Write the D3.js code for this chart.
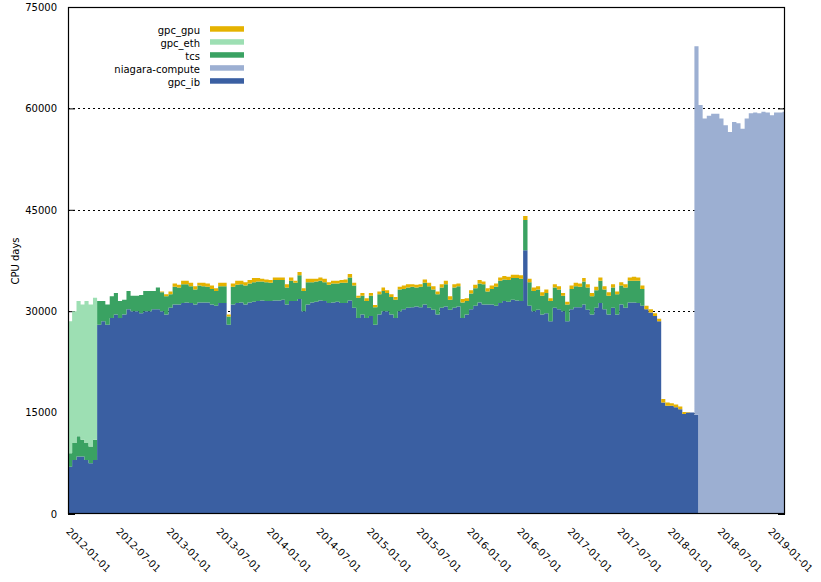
<!DOCTYPE html>
<html>
<head>
<meta charset="utf-8">
<script src="https://cdn.jsdelivr.net/npm/d3@7"></script>
<style>
body { margin: 0; background: #fff; }
text { font-family: "DejaVu Sans", sans-serif; font-size: 10px; fill: #000; }
</style>
</head>
<body>
<div id="chart"></div>
<script>
// half-month periods, 2012-01-01 .. 2019-02-16
var firstMonth = Date.UTC(2012, 0, 1),
	lastMonth = Date.UTC(2019, 2, 1);

// CPU days per half month
// gpc_ib, from 2012-01 (24 values per year)
var gpcIb = [
	7000, 8000, 8500, 8500, 8000, 7500, 8000, 28000, 28500, 28000, 29000, 29500, 29000, 29500, 30300, 30000, 30000, 29700, 30000, 30000, 30300, 30300, 30000, 29500,
	30500, 31000, 31000, 31200, 31300, 31200, 31000, 31300, 31300, 31300, 31000, 30800, 31200, 31200, 28000, 31000, 31200, 31300, 31000, 31300, 31400, 31500, 31600, 31500,
	31500, 31600, 31600, 31700, 31000, 31500, 31500, 31800, 30000, 31000, 31300, 31400, 31600, 31500, 31200, 31300, 31400, 31200, 31200, 31600, 30500, 29000, 29500, 29000,
	29300, 28000, 29500, 30000, 30000, 29500, 29000, 30000, 30300, 30500, 30600, 30700, 30600, 31000, 30500, 30200, 29500, 30500, 30700, 30200, 30500, 30700, 29000, 29500,
	30300, 30800, 31300, 31000, 31000, 31000, 30800, 31200, 31500, 31400, 31700, 31600, 31500, 39000, 30800, 30000, 30200, 29500, 29700, 28500, 30500, 30300, 30000, 28500,
	30300, 30600, 30600, 31000, 30200, 29500, 30500, 31200, 30300, 29500, 30500, 29500, 31000, 30500, 31300, 31300, 31200, 30800, 30300, 29800, 29300, 28500, 16500, 16000,
	16000, 15800, 15500, 14800, 15000, 15000, 14700
];
// tcs, from 2012-01
var tcs = [
	2000, 2500, 3000, 2500, 2500, 2500, 3000, 3500, 3000, 3000, 3200, 3200, 2500, 2200, 2700, 2300, 2300, 2700, 3000, 3000, 2700, 3200, 2800, 2700,
	2000, 2600, 2500, 2800, 2700, 2500, 2200, 2500, 2400, 2300, 2300, 2200, 2500, 2500, 1200, 2600, 2700, 2700, 2800, 2800, 2900, 2900, 2800, 2800,
	2700, 3000, 3000, 2900, 2500, 3000, 2700, 3500, 3000, 3300, 3000, 3000, 2900, 2800, 2700, 2800, 2700, 3000, 3000, 3400, 3300, 3000, 2800, 2500,
	3000, 2600, 3000, 3000, 2700, 2600, 2700, 3200, 3000, 3000, 3000, 2800, 3000, 3200, 3200, 3000, 3000, 3000, 3300, 1500, 3000, 3000, 2300, 2000,
	2300, 2600, 2800, 3000, 1900, 2300, 2800, 3300, 3200, 3200, 3200, 3300, 3300, 4500, 3500, 3000, 3000, 2800, 3000, 3000, 3000, 2900, 2300, 2500,
	3000, 3100, 3000, 3400, 3300, 2700, 2600, 3300, 2900, 2800, 3000, 3000, 2800, 3000, 3200, 3200, 3300, 2500
];
// gpc_eth, from 2012-01
var gpcEth = [19500, 19500, 20000, 20000, 21000, 21000, 21000];
// gpc_gpu, from 2012-12
var gpcGpu = [
	100, 300,
	400, 500, 400, 500, 500, 500, 500, 400, 500, 500, 500, 400, 500, 500, 300, 500, 600, 500, 500, 500, 600, 500, 400, 400,
	400, 400, 400, 400, 500, 500, 300, 500, 400, 500, 500, 400, 500, 500, 400, 400, 400, 400, 500, 500, 400, 300, 400, 400,
	400, 300, 400, 500, 400, 400, 400, 400, 500, 500, 400, 400, 400, 500, 500, 500, 400, 500, 500, 500, 500, 400, 500, 400,
	500, 500, 500, 400, 500, 500, 500, 500, 500, 500, 500, 500, 500, 600, 500, 500, 500, 500, 500, 400, 500, 500, 400, 400,
	500, 500, 500, 500, 500, 500, 500, 500, 500, 500, 500, 400, 500, 500, 500, 600, 500, 500, 500, 500, 400, 400, 500, 500,
	400, 400, 400, 300, 100
];
// niagara-compute, from 2018-04
var niagara = [54500, 60500, 58500, 58900, 59200, 59200, 58500, 57500, 56500, 58000, 57800, 57000,
	58500, 59300, 59400, 59300, 59500, 59400, 59000, 59400, 59400, 59500];

var seriesKeys = ["gpc_ib", "niagara-compute", "tcs", "gpc_eth", "gpc_gpu"]; //bottom to top
var legendKeys = ["gpc_gpu", "gpc_eth", "tcs", "niagara-compute", "gpc_ib"];
var yTicks = [0, 15000, 30000, 45000, 60000, 75000];
var gridTicks = [15000, 30000, 45000, 60000];

var colors = d3.scaleOrdinal()
	.domain(seriesKeys)
	.range(["#3a5fa2", "#9cafd2", "#3aa262", "#9ddfb3", "#e5b200"]);

var width = 821,
	height = 582;

// build the period list and the table the stack needs
var periods = [];
d3.utcMonth.range(new Date(firstMonth), new Date(lastMonth)).forEach(function(m){
	periods.push(m);
	periods.push(d3.utcDay.offset(m, 15));
});

var offsets = {"gpc_ib": 0, "tcs": 0, "gpc_eth": 0, "gpc_gpu": 22, "niagara-compute": 150};
var values = {"gpc_ib": gpcIb, "tcs": tcs, "gpc_eth": gpcEth, "gpc_gpu": gpcGpu, "niagara-compute": niagara};

var table = periods.map(function(d, i){
	var row = {date: d};
	seriesKeys.forEach(function(k){
		var j = i - offsets[k];
		row[k] = (j >= 0 && j < values[k].length) ? values[k][j] : 0;
	});
	return row;
});
// closing point so the last step has a width
var closing = Object.assign({}, table[table.length - 1]);
closing.date = new Date(lastMonth);
table.push(closing);

var stacked = d3.stack().keys(seriesKeys)(table);

var xScale = d3.scaleUtc()
	.domain([new Date(Date.UTC(2012, 0, 1)), new Date(Date.UTC(2019, 1, 25))])
	.range([68, 785]);

var yScale = d3.scaleLinear()
	.domain([0, 75000])
	.range([514, 7]);

var svg = d3.select("#chart").append("svg")
	.attr("width", width)
	.attr("height", height);

svg.append("defs").append("clipPath").attr("id", "plot")
	.append("rect")
	.attr("x", 68).attr("y", 7)
	.attr("width", 717).attr("height", 507);

//dotted grid behind the data
svg.append("g")
	.selectAll("line").data(gridTicks)
	.enter().append("line")
		.attr("x1", 68).attr("x2", 785)
		.attr("y1", function(d){ return Math.round(yScale(d)) + 0.5; })
		.attr("y2", function(d){ return Math.round(yScale(d)) + 0.5; })
		.style("stroke", "#000")
		.style("stroke-dasharray", "2,3");

//ticks pointing inward, left and right
var yAxis = d3.axisLeft(yScale)
	.tickValues(yTicks)
	.tickSizeInner(-7)
	.tickSizeOuter(0)
	.tickPadding(11)
	.tickFormat(d3.format("d"));

var yAxisG = svg.append("g")
	.attr("transform", "translate(68,0)")
	.call(yAxis);
yAxisG.select(".domain").remove();
yAxisG.selectAll("text").style("font-size", "10px").style("font-family", "DejaVu Sans");

var yRight = svg.append("g")
	.attr("transform", "translate(785,0)")
	.call(d3.axisRight(yScale).tickValues(yTicks).tickSizeInner(-7).tickSizeOuter(0).tickFormat(""));
yRight.select(".domain").remove();

var area = d3.area()
	.curve(d3.curveStepAfter)
	.x(function(d){ return xScale(d.data.date); })
	.y0(function(d){ return yScale(d[0]); })
	.y1(function(d){ return yScale(d[1]); });

svg.append("g")
	.attr("clip-path", "url(#plot)")
	.selectAll("path").data(stacked)
	.enter().append("path")
		.attr("d", area)
		.style("fill", function(d){ return colors(d.key); });

//x labels, rotated down to the right
var xTicks = d3.utcMonth.every(6).range(new Date(Date.UTC(2012, 0, 1)), new Date(Date.UTC(2019, 0, 2)));
svg.append("g")
	.selectAll("text").data(xTicks)
	.enter().append("text")
		.attr("transform", function(d){
			return "translate(" + (xScale(d) - 2.5) + ",532) rotate(45)";
		})
		.text(d3.utcFormat("%Y-%m-%d"));

svg.append("text")
	.attr("transform", "translate(19,261) rotate(-90)")
	.style("text-anchor", "middle")
	.text("CPU days");

//legend
var legend = svg.append("g")
	.selectAll("g").data(legendKeys)
	.enter().append("g")
		.attr("transform", function(d, i){ return "translate(0," + (i * 13) + ")"; });

legend.append("text")
	.attr("x", 200)
	.attr("y", 34.3)
	.style("text-anchor", "end")
	.text(function(d){ return d; });

legend.append("rect")
	.attr("x", 210)
	.attr("y", 26.2)
	.attr("width", 34)
	.attr("height", 5.5)
	.style("fill", function(d){ return colors(d); });

//border on top
svg.append("rect")
	.attr("x", 68.5).attr("y", 7.5)
	.attr("width", 716).attr("height", 506)
	.style("fill", "none")
	.style("stroke", "#000")
	.style("stroke-width", 1.2);
</script>
</body>
</html>
